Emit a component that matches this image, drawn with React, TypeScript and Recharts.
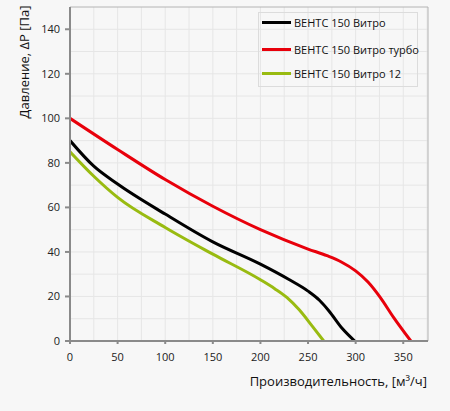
import React from "react";
import { LineChart, Line, XAxis, YAxis, ReferenceLine } from "recharts";

type Pt = { q: number; p: number };

// ВЕНТС 150 Витро
const vitroQ = [0, 25, 50, 100, 150, 200, 230, 250, 262, 272, 286, 299];
const vitroP = [90, 78.5, 70.5, 57, 44.5, 34.5, 27.6, 22.4, 18.3, 13.5, 5.6, 0];

// ВЕНТС 150 Витро турбо
const turboQ = [0, 50, 100, 150, 200, 250, 270, 285, 300, 313, 326, 340, 358];
const turboP = [100, 86, 72.5, 60.5, 50, 41.3, 38.3, 35.5, 31.5, 26.5, 19.5, 10.5, 0];

// ВЕНТС 150 Витро 12
const v12Q = [0, 25, 50, 100, 150, 200, 215, 228, 241, 254, 266.5];
const v12P = [85, 74, 64.5, 51, 39, 27.5, 23.5, 19.5, 13.9, 6.9, 0];

const xTicks = [0, 50, 100, 150, 200, 250, 300, 350];
const yTicks = [0, 20, 40, 60, 80, 100, 120, 140];
const gridX = [25, 50, 75, 100, 125, 150, 175, 200, 225, 250, 275, 300, 325, 350, 375];
const gridY = [10, 20, 30, 40, 50, 60, 70, 80, 90, 100, 110, 120, 130, 140];

const X_MAX = 376;
const Y_MAX = 150;

const zip = (q: number[], p: number[]): Pt[] => q.map((v, i) => ({ q: v, p: p[i] }));

const series = [
  { name: "ВЕНТС 150 Витро", color: "#000000", data: zip(vitroQ, vitroP) },
  { name: "ВЕНТС 150 Витро турбо", color: "#e8000b", data: zip(turboQ, turboP) },
  { name: "ВЕНТС 150 Витро 12", color: "#99bb11", data: zip(v12Q, v12P) },
];

const FONT = "'Open Sans', 'Noto Sans', sans-serif";

function LegendBox() {
  const rows = [9, 36, 60];
  return (
    <div
      style={{
        position: "absolute",
        left: 258,
        top: 12,
        width: 160,
        height: 75,
        border: "1px solid #dcdcdc",
        boxSizing: "border-box",
        fontSize: 11,
        color: "#111",
      }}
    >
      {series.map((s, i) => (
        <div
          key={s.name}
          style={{
            position: "absolute",
            left: 3,
            top: rows[i] - 8,
            height: 16,
            display: "flex",
            alignItems: "center",
            whiteSpace: "nowrap",
          }}
        >
          <span
            style={{
              display: "inline-block",
              width: 29,
              height: 3,
              background: s.color,
              marginRight: 3,
            }}
          />
          {s.name}
        </div>
      ))}
    </div>
  );
}

export default function App() {
  return (
    <div
      style={{
        position: "absolute",
        left: 0,
        top: 0,
        width: 450,
        height: 411,
        background: "#f7f7f7",
        fontFamily: FONT,
      }}
    >
      <LineChart
        width={450}
        height={411}
        margin={{ top: 7, right: 22, bottom: 0, left: 10 }}
      >
        {gridX.map((v) => (
          <ReferenceLine key={"gx" + v} x={v} stroke="#e6e6e6" strokeWidth={1} />
        ))}
        {gridY.map((v) => (
          <ReferenceLine key={"gy" + v} y={v} stroke="#e6e6e6" strokeWidth={1} />
        ))}
        <ReferenceLine y={Y_MAX} stroke="#b4b4b4" strokeWidth={1} />
        <ReferenceLine x={X_MAX} stroke="#b4b4b4" strokeWidth={1} />
        <XAxis
          type="number"
          dataKey="q"
          domain={[0, X_MAX]}
          ticks={xTicks}
          allowDataOverflow
          height={70}
          stroke="#8a8a8a"
          strokeWidth={2}
          tickSize={3}
          tickMargin={9}
          tick={{ fill: "#222", fontSize: 11, fontFamily: FONT }}
        />
        <YAxis
          type="number"
          dataKey="p"
          domain={[0, Y_MAX]}
          ticks={yTicks}
          allowDataOverflow
          width={60}
          stroke="#8a8a8a"
          strokeWidth={2}
          tickSize={5}
          tickMargin={5}
          tick={{ fill: "#222", fontSize: 11, fontFamily: FONT }}
        />
        {series.map((s) => (
          <Line
            key={s.name}
            data={s.data}
            dataKey="p"
            name={s.name}
            type="monotone"
            stroke={s.color}
            strokeWidth={3}
            dot={false}
            activeDot={false}
            isAnimationActive={false}
          />
        ))}
      </LineChart>
      <LegendBox />
      <div
        style={{
          position: "absolute",
          left: 24,
          top: 62,
          transform: "translate(-50%, -50%) rotate(-90deg)",
          whiteSpace: "nowrap",
          fontSize: 13,
          color: "#111",
        }}
      >
        Давление, ΔP [Па]
      </div>
      <div
        style={{
          position: "absolute",
          right: 23,
          top: 372,
          whiteSpace: "nowrap",
          fontSize: 13,
          color: "#111",
        }}
      >
        Производительность, [м³/ч]
      </div>
    </div>
  );
}
